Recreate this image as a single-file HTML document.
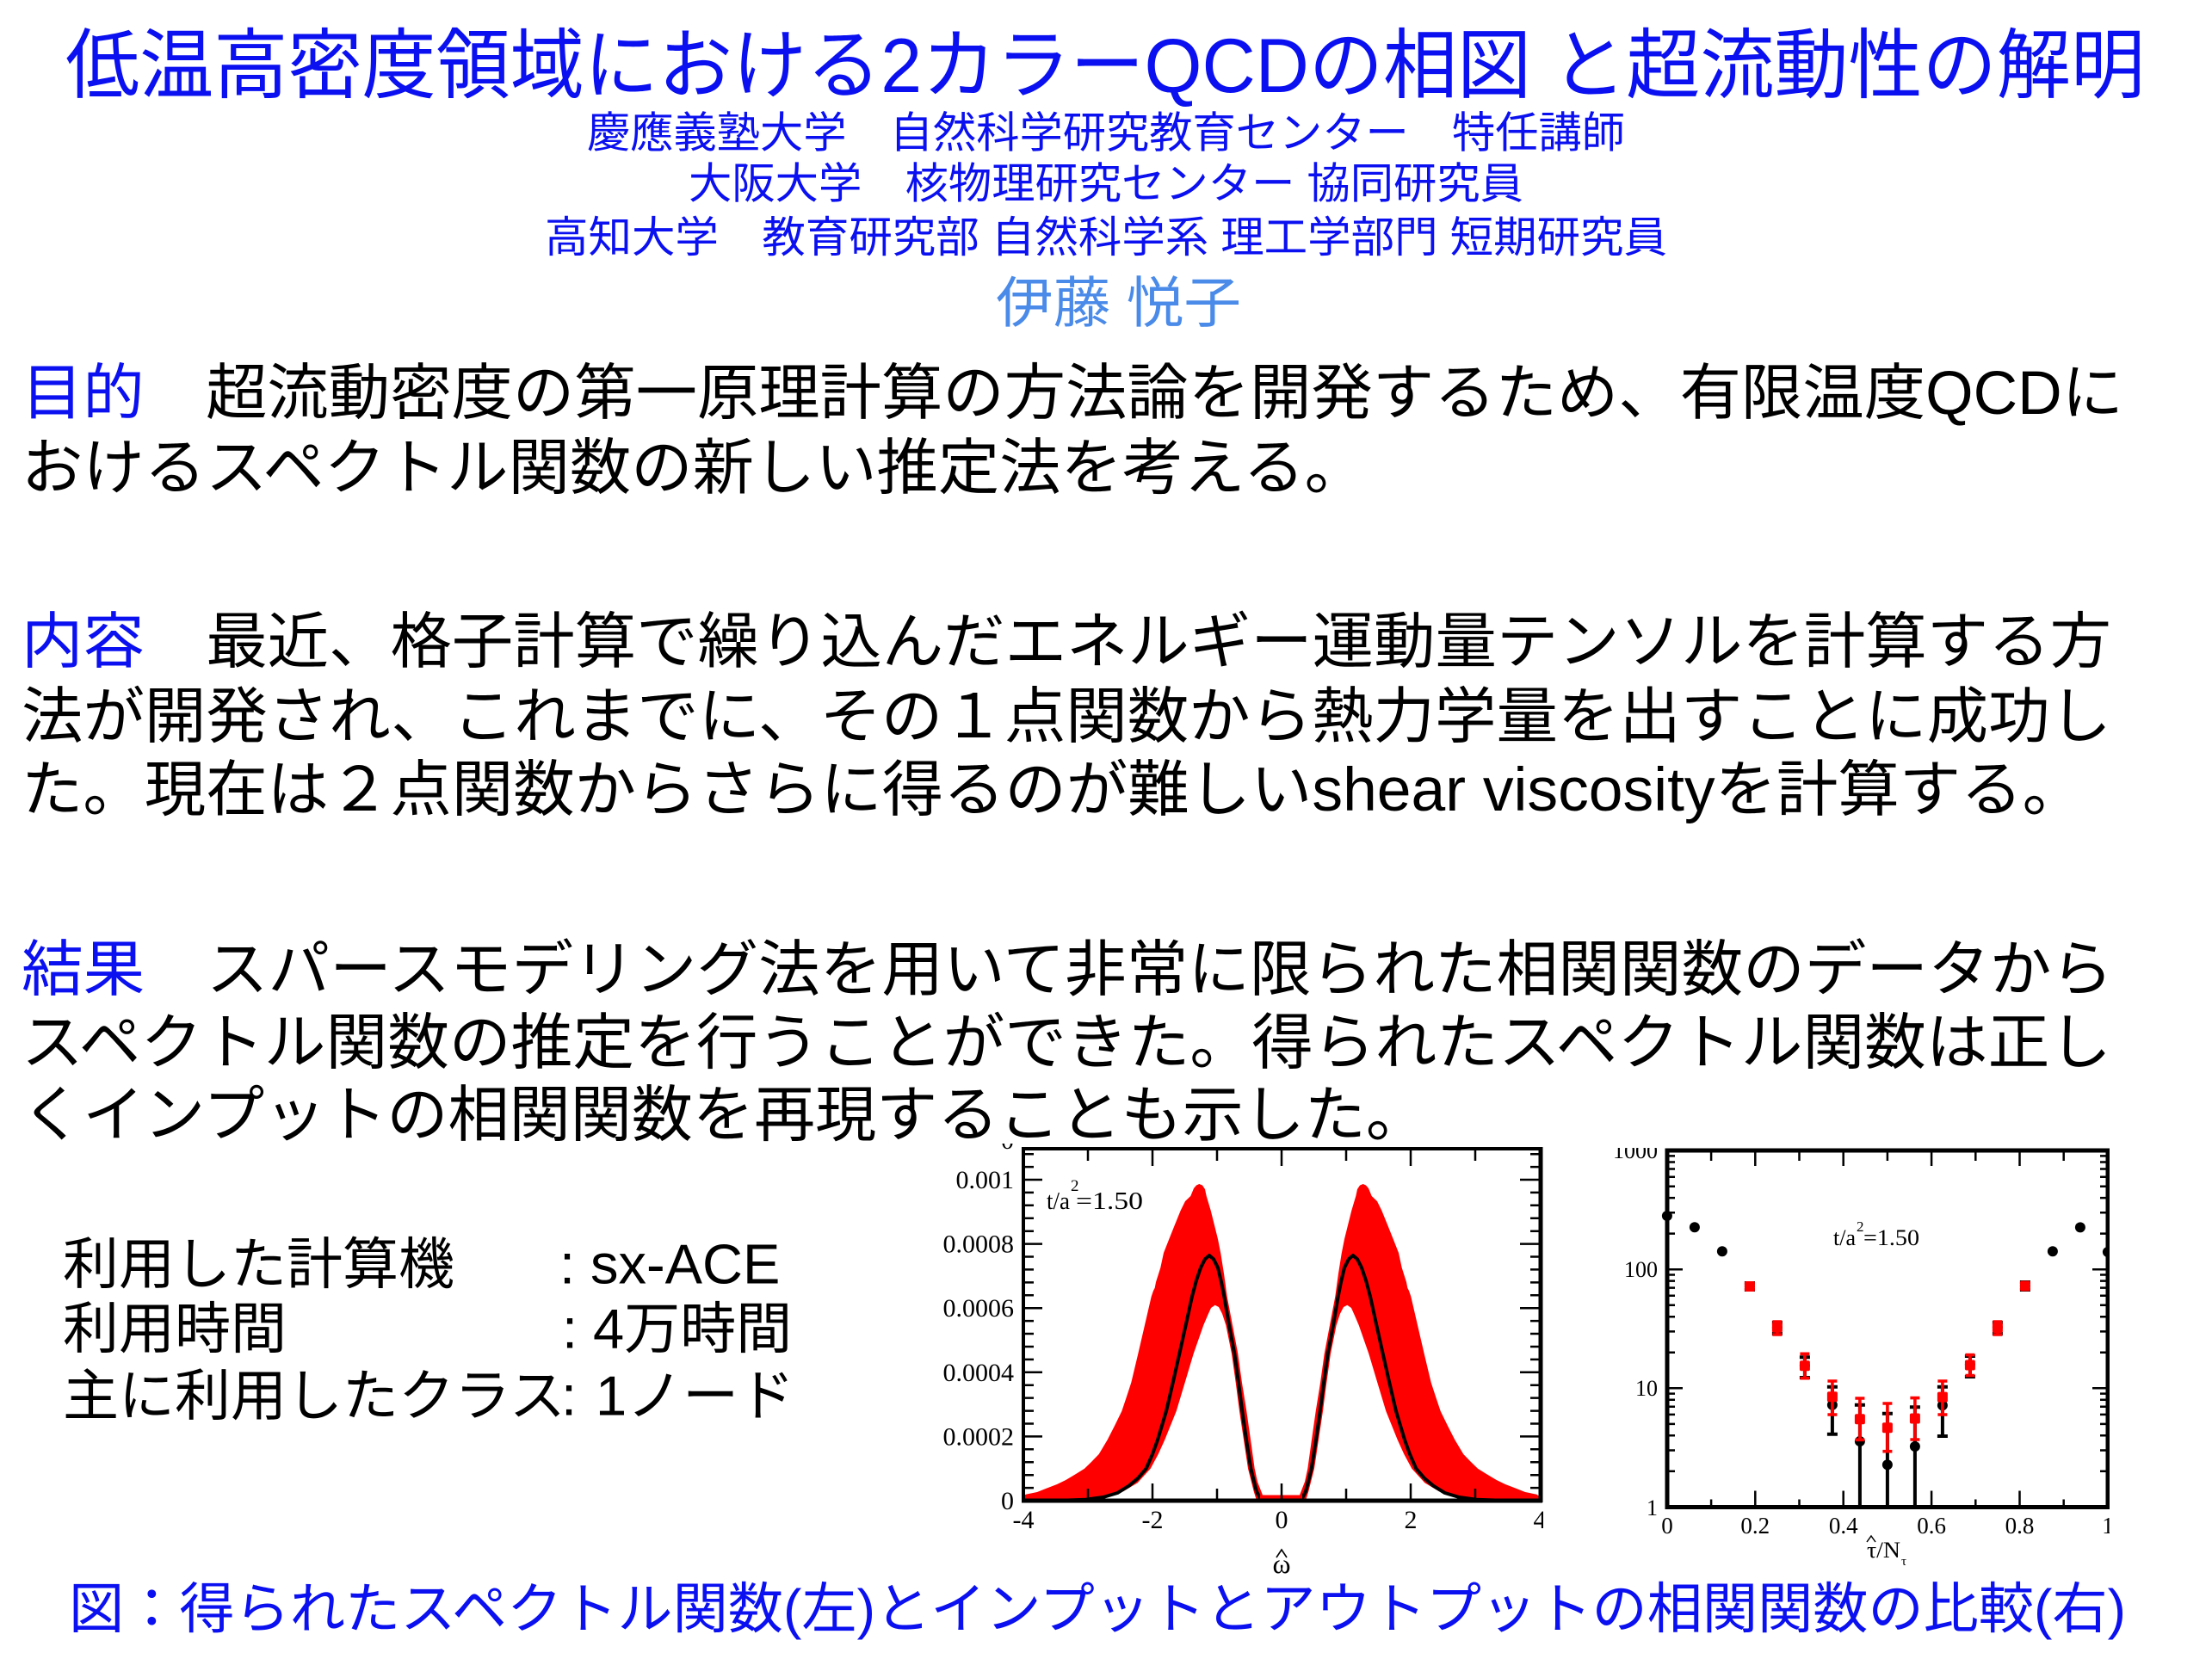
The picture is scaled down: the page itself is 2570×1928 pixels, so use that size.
<!DOCTYPE html>
<html>
<head>
<meta charset="utf-8">
<style>
html,body{margin:0;padding:0;background:#fff;}
svg{display:block;}
.j{font-family:"Liberation Sans","Noto Sans CJK JP",sans-serif;}
.s{font-family:"Liberation Serif","DejaVu Serif",serif;}
</style>
</head>
<body>
<svg width="2570" height="1928" viewBox="0 0 2570 1928" xmlns="http://www.w3.org/2000/svg">
<rect x="0" y="0" width="2570" height="1928" fill="#ffffff"/>
<defs>
  <clipPath id="clipL"><rect x="1090" y="1329" width="703" height="520"/></clipPath>
  <clipPath id="clipR"><rect x="1860" y="1334" width="591" height="500"/></clipPath>
  <g id="half">
    <polygon fill="#ff0000" points="1189,1744 1189,1738.5 1191.7,1736.7 1205,1734 1215,1730 1228,1725 1238.3,1720 1250,1713 1260,1706.7 1268,1699 1276.7,1690 1286.7,1673.3 1295,1657 1303.3,1640 1309,1623 1314.3,1606.7 1322.3,1573.3 1330,1540 1337.7,1506.7 1340,1500 1341.7,1496.7 1343,1490 1348.3,1473.3 1352,1456 1358.3,1440 1365,1423.3 1371.7,1406.7 1377,1396 1383.3,1390 1387,1381 1390,1377.5 1393.3,1376 1397,1377.5 1400,1382 1401.7,1390 1406.7,1406.7 1415,1440 1418.3,1456.7 1422,1480 1425.7,1506.7 1432,1540 1438.3,1573.3 1443,1607 1448.3,1640 1453,1673 1457.7,1706.7 1461,1722 1466.7,1736.7 1468.3,1744"/>
    <polygon fill="#ffffff" points="1260,1744 1281.7,1740 1305,1733.3 1321.7,1723.3 1336.7,1706.7 1345.7,1690 1353.3,1673.3 1366.7,1640 1376.7,1606.7 1386.7,1573.3 1398.3,1540 1403,1529 1407,1520 1411.7,1516.7 1416,1519 1420,1526.7 1424.3,1540 1431,1573.3 1435.7,1606.7 1440,1640 1445,1673.3 1450,1706.7 1456.7,1733.3 1460,1744"/>
    <polyline fill="none" stroke="#000" stroke-width="4" stroke-linejoin="round" stroke-linecap="round" points="1189,1744 1240,1743.5 1261.7,1742.7 1281.7,1740 1298.3,1735 1311.7,1726.7 1322,1718 1331.7,1706.7 1339,1690 1345,1673.3 1355,1640 1362.7,1607 1370.3,1573.3 1377.7,1540 1385,1506.7 1390,1488 1395,1473.3 1400,1463.3 1405,1459 1410,1463.3 1415,1473.3 1419,1490 1422.3,1506.7 1428,1540 1434.3,1573.3 1439,1607 1443.3,1640 1448,1673 1453.3,1706.7 1457,1722 1460,1733.3 1464.3,1741.7 1468,1744 1489,1744"/>
  </g>
</defs>

<!-- Title -->
<text class="j" x="76" y="107" font-size="89" fill="#0a10f0" textLength="2416" lengthAdjust="spacingAndGlyphs">低温高密度領域における2カラーQCDの相図 と超流動性の解明</text>
<text class="j" x="682" y="171.5" font-size="50" fill="#0a10f0" textLength="1206" lengthAdjust="spacingAndGlyphs">慶應義塾大学　自然科学研究教育センター　特任講師</text>
<text class="j" x="800" y="230.5" font-size="50" fill="#0a10f0" textLength="970" lengthAdjust="spacingAndGlyphs">大阪大学　核物理研究センター 協同研究員</text>
<text class="j" x="633" y="293" font-size="50" fill="#0a10f0" textLength="1304" lengthAdjust="spacingAndGlyphs">高知大学　教育研究部 自然科学系 理工学部門 短期研究員</text>
<text class="j" x="1157" y="374.5" font-size="64" fill="#4a8ae8" textLength="285" lengthAdjust="spacingAndGlyphs">伊藤 悦子</text>

<!-- Body -->
<text class="j" x="25" y="481" font-size="71" fill="#000" textLength="2442" lengthAdjust="spacingAndGlyphs"><tspan fill="#0a10f0">目的</tspan>　超流動密度の第一原理計算の方法論を開発するため、有限温度QCDに</text>
<text class="j" x="25" y="568" font-size="71" fill="#000" textLength="1562" lengthAdjust="spacingAndGlyphs">おけるスペクトル関数の新しい推定法を考える。</text>

<text class="j" x="25" y="770" font-size="71" fill="#000" textLength="2428" lengthAdjust="spacingAndGlyphs"><tspan fill="#0a10f0">内容</tspan>　最近、格子計算で繰り込んだエネルギー運動量テンソルを計算する方</text>
<text class="j" x="25" y="857" font-size="71" fill="#000" textLength="2428" lengthAdjust="spacingAndGlyphs">法が開発され、これまでに、その１点関数から熱力学量を出すことに成功し</text>
<text class="j" x="25" y="942" font-size="71" fill="#000" textLength="2396" lengthAdjust="spacingAndGlyphs">た。現在は２点関数からさらに得るのが難しいshear viscosityを計算する。</text>

<text class="j" x="25" y="1151" font-size="71" fill="#000" textLength="2430" lengthAdjust="spacingAndGlyphs"><tspan fill="#0a10f0">結果</tspan>　スパースモデリング法を用いて非常に限られた相関関数のデータから</text>
<text class="j" x="25" y="1236" font-size="71" fill="#000" textLength="2428" lengthAdjust="spacingAndGlyphs">スペクトル関数の推定を行うことができた。得られたスペクトル関数は正し</text>
<text class="j" x="25" y="1320" font-size="71" fill="#000" textLength="1633" lengthAdjust="spacingAndGlyphs">くインプットの相関関数を再現することも示した。</text>

<!-- Computer info list -->
<text class="j" x="73" y="1491.5" font-size="65" fill="#000">利用した計算機</text>
<text class="j" x="650" y="1491.5" font-size="65" fill="#000">:</text>
<text class="j" x="686" y="1491.5" font-size="65" fill="#000">sx-ACE</text>
<text class="j" x="73" y="1566.5" font-size="65" fill="#000">利用時間</text>
<text class="j" x="653" y="1566.5" font-size="65" fill="#000">:</text>
<text class="j" x="689" y="1566.5" font-size="65" fill="#000">4万時間</text>
<text class="j" x="73" y="1644.5" font-size="65" fill="#000">主に利用したクラス</text>
<text class="j" x="652" y="1644.5" font-size="65" fill="#000">:</text>
<text class="j" x="692" y="1644.5" font-size="65" fill="#000">1ノード</text>

<!-- Caption -->
<text class="j" x="80" y="1892" font-size="64" fill="#0a10f0" textLength="2390" lengthAdjust="spacingAndGlyphs">図：得られたスペクトル関数(左)とインプットとアウトプットの相関関数の比較(右)</text>

<!-- LEFT CHART -->
<g clip-path="url(#clipL)">
  <use href="#half"/>
  <use href="#half" transform="matrix(-1 0 0 1 2977 0)"/>
  <rect x="1464" y="1737.5" width="49" height="6.5" fill="#ff0000"/>
  <!-- ticks -->
  <path fill="none" stroke="#000" stroke-width="2.5" d="
    M1189 1669.4h22M1189 1594.8h22M1189 1520.2h22M1189 1445.6h22M1189 1371h22
    M1790 1669.4h-24M1790 1594.8h-24M1790 1520.2h-24M1790 1445.6h-24M1790 1371h-24
    M1189 1729.1h12M1189 1714.2h12M1189 1699.2h12M1189 1684.3h12M1189 1654.5h12M1189 1639.6h12M1189 1624.6h12M1189 1609.7h12M1189 1579.9h12M1189 1565h12M1189 1550h12M1189 1535.1h12M1189 1505.3h12M1189 1490.4h12M1189 1475.4h12M1189 1460.5h12M1189 1430.7h12M1189 1415.8h12M1189 1400.8h12M1189 1385.9h12M1189 1356.1h12M1189 1341.2h12
    M1790 1729.1h-12M1790 1714.2h-12M1790 1699.2h-12M1790 1684.3h-12M1790 1654.5h-12M1790 1639.6h-12M1790 1624.6h-12M1790 1609.7h-12M1790 1579.9h-12M1790 1565h-12M1790 1550h-12M1790 1535.1h-12M1790 1505.3h-12M1790 1490.4h-12M1790 1475.4h-12M1790 1460.5h-12M1790 1430.7h-12M1790 1415.8h-12M1790 1400.8h-12M1790 1385.9h-12M1790 1356.1h-12M1790 1341.2h-12
    M1339 1744v-20M1489 1744v-20M1639 1744v-20
    M1264 1744v-14M1414 1744v-14M1564 1744v-14M1714 1744v-14
    M1339 1335v20M1489 1335v20M1639 1335v20
    M1264 1335v14M1414 1335v14M1564 1335v14M1714 1335v14"/>
  <!-- frame -->
  <line x1="1187" y1="1335" x2="1792" y2="1335" stroke="#000" stroke-width="4"/>
  <line x1="1187" y1="1744" x2="1792" y2="1744" stroke="#000" stroke-width="5"/>
  <line x1="1189" y1="1333" x2="1189" y2="1746" stroke="#000" stroke-width="4"/>
  <line x1="1790" y1="1333" x2="1790" y2="1746" stroke="#000" stroke-width="5"/>
  <!-- y labels -->
  <g class="s" font-size="30" fill="#000" text-anchor="end">
    <text x="1178" y="1335">0</text>
    <text x="1178" y="1381">0.001</text>
    <text x="1178" y="1455.6">0.0008</text>
    <text x="1178" y="1530.2">0.0006</text>
    <text x="1178" y="1604.8">0.0004</text>
    <text x="1178" y="1679.4">0.0002</text>
    <text x="1178" y="1754">0</text>
  </g>
  <!-- x labels -->
  <g class="s" font-size="30" fill="#000" text-anchor="middle">
    <text x="1189" y="1776">-4</text>
    <text x="1339" y="1776">-2</text>
    <text x="1489" y="1776">0</text>
    <text x="1639" y="1776">2</text>
    <text x="1789" y="1776">4</text>
  </g>
  <polyline points="1483,1810 1489,1801 1495,1810" fill="none" stroke="#000" stroke-width="1.6"/>
  <text class="s" x="1489" y="1828" font-size="32" text-anchor="middle" fill="#000">ω</text>
  <!-- annotation -->
  <text class="s" x="1216" y="1405" font-size="28" fill="#000" textLength="27" lengthAdjust="spacingAndGlyphs">t/a</text>
  <text class="s" x="1244" y="1384" font-size="19" fill="#000">2</text>
  <text class="s" x="1250" y="1405" font-size="28" fill="#000" textLength="78" lengthAdjust="spacingAndGlyphs">=1.50</text>
</g>

<!-- RIGHT CHART -->
<g clip-path="url(#clipR)">
  <!-- black error bars -->
  <path fill="none" stroke="#000" stroke-width="4" d="
    M2032.9 1491V1499M2026.9 1491h12M2026.9 1499h12
    M2064.9 1537V1550M2058.9 1537h12M2058.9 1550h12
    M2096.9 1577.3V1601M2090.9 1577.3h12M2090.9 1601h12
    M2128.9 1611.7V1666.7M2122.9 1611.7h12M2122.9 1666.7h12
    M2160.9 1632.7V1752M2154.9 1632.7h12
    M2192.9 1642.7V1752M2186.9 1642.7h12
    M2224.9 1635.3V1752M2218.9 1635.3h12
    M2256.9 1611.7V1669M2250.9 1611.7h12M2250.9 1669h12
    M2288.9 1576V1600M2282.9 1576h12M2282.9 1600h12
    M2320.9 1537V1550M2314.9 1537h12M2314.9 1550h12
    M2352.9 1490V1499M2346.9 1490h12M2346.9 1499h12"/>
  <!-- black circles -->
  <g fill="#000">
    <circle cx="1936.9" cy="1413" r="6"/>
    <circle cx="1968.9" cy="1426.3" r="6"/>
    <circle cx="2000.9" cy="1454.3" r="6"/>
    <circle cx="2032.9" cy="1495" r="6"/>
    <circle cx="2064.9" cy="1542.7" r="6"/>
    <circle cx="2096.9" cy="1587" r="6"/>
    <circle cx="2128.9" cy="1632.7" r="6"/>
    <circle cx="2160.9" cy="1675" r="6"/>
    <circle cx="2192.9" cy="1702.3" r="6"/>
    <circle cx="2224.9" cy="1681" r="6"/>
    <circle cx="2256.9" cy="1633.3" r="6"/>
    <circle cx="2288.9" cy="1586" r="6"/>
    <circle cx="2320.9" cy="1542.5" r="6"/>
    <circle cx="2352.9" cy="1494.5" r="6"/>
    <circle cx="2384.9" cy="1454.3" r="6"/>
    <circle cx="2416.9" cy="1426.4" r="6"/>
    <circle cx="2448.9" cy="1455" r="6"/>
  </g>
  <!-- red error bars -->
  <path fill="none" stroke="#ff0000" stroke-width="3.6" d="
    M2064.9 1536V1551M2059.4 1536h11M2059.4 1551h11
    M2096.9 1573.3V1601.7M2091.4 1573.3h11M2091.4 1601.7h11
    M2128.9 1605V1644M2123.4 1605h11M2123.4 1644h11
    M2160.9 1625V1673.3M2155.4 1625h11M2155.4 1673.3h11
    M2192.9 1631V1686.7M2187.4 1631h11M2187.4 1686.7h11
    M2224.9 1624.6V1673M2219.4 1624.6h11M2219.4 1673h11
    M2256.9 1605V1644M2251.4 1605h11M2251.4 1644h11
    M2288.9 1574.6V1598.6M2283.4 1574.6h11M2283.4 1598.6h11
    M2320.9 1536V1551M2315.4 1536h11M2315.4 1551h11"/>
  <!-- red markers -->
  <g fill="#ff0000">
    <rect x="2026.9" y="1489" width="12" height="12" rx="2"/>
    <rect x="2058.9" y="1536.7" width="12" height="12" rx="2"/>
    <rect x="2090.9" y="1581.3" width="12" height="12" rx="2"/>
    <rect x="2122.9" y="1617.3" width="12" height="12" rx="2"/>
    <rect x="2154.9" y="1643.3" width="12" height="12" rx="2"/>
    <rect x="2186.9" y="1653.3" width="12" height="12" rx="2"/>
    <rect x="2218.9" y="1642.5" width="12" height="12" rx="2"/>
    <rect x="2250.9" y="1617.6" width="12" height="12" rx="2"/>
    <rect x="2282.9" y="1580.5" width="12" height="12" rx="2"/>
    <rect x="2314.9" y="1537" width="12" height="12" rx="2"/>
    <rect x="2346.9" y="1488.5" width="12" height="12" rx="2"/>
  </g>
  <!-- ticks -->
  <path fill="none" stroke="#000" stroke-width="2.5" d="
    M1937 1613.3h18M1937 1475.2h18
    M2449 1613.3h-18M2449 1475.2h-18
    M1937 1709.8h9M1937 1685.5h9M1937 1668.3h9M1937 1654.9h9M1937 1643.9h9M1937 1634.7h9M1937 1626.7h9M1937 1619.6h9
    M1937 1571.7h9M1937 1547.4h9M1937 1530.2h9M1937 1516.8h9M1937 1505.8h9M1937 1496.6h9M1937 1488.6h9M1937 1481.5h9
    M1937 1433.6h9M1937 1409.3h9M1937 1392.1h9M1937 1378.7h9M1937 1367.7h9M1937 1358.5h9M1937 1350.5h9M1937 1343.4h9
    M2449 1709.8h-9M2449 1685.5h-9M2449 1668.3h-9M2449 1654.9h-9M2449 1643.9h-9M2449 1634.7h-9M2449 1626.7h-9M2449 1619.6h-9
    M2449 1571.7h-9M2449 1547.4h-9M2449 1530.2h-9M2449 1516.8h-9M2449 1505.8h-9M2449 1496.6h-9M2449 1488.6h-9M2449 1481.5h-9
    M2449 1433.6h-9M2449 1409.3h-9M2449 1392.1h-9M2449 1378.7h-9M2449 1367.7h-9M2449 1358.5h-9M2449 1350.5h-9M2449 1343.4h-9
    M2039.3 1751.5v-19M2141.7 1751.5v-19M2244.1 1751.5v-19M2346.5 1751.5v-19
    M1988.1 1751.5v-9M2090.5 1751.5v-9M2192.9 1751.5v-9M2295.3 1751.5v-9M2397.7 1751.5v-9
    M2039.3 1337v18M2141.7 1337v18M2244.1 1337v18M2346.5 1337v18
    M1988.1 1337v12M2090.5 1337v12M2192.9 1337v12M2295.3 1337v12M2397.7 1337v12"/>
  <!-- frame -->
  <line x1="1934.5" y1="1337" x2="2451.5" y2="1337" stroke="#000" stroke-width="5"/>
  <line x1="1934.5" y1="1751.5" x2="2451.5" y2="1751.5" stroke="#000" stroke-width="5"/>
  <line x1="1937" y1="1334.5" x2="1937" y2="1754" stroke="#000" stroke-width="5"/>
  <line x1="2449" y1="1334.5" x2="2449" y2="1754" stroke="#000" stroke-width="5"/>
  <!-- y labels -->
  <g class="s" font-size="26" fill="#000" text-anchor="end">
    <text x="1926" y="1346">1000</text>
    <text x="1926" y="1484">100</text>
    <text x="1926" y="1622">10</text>
    <text x="1926" y="1761">1</text>
  </g>
  <!-- x labels -->
  <g class="s" font-size="27" fill="#000" text-anchor="middle">
    <text x="1937" y="1782">0</text>
    <text x="2039.3" y="1782">0.2</text>
    <text x="2141.7" y="1782">0.4</text>
    <text x="2244.1" y="1782">0.6</text>
    <text x="2346.5" y="1782">0.8</text>
    <text x="2449" y="1782">1</text>
  </g>
  <polyline points="2169,1792 2174,1785 2179,1792" fill="none" stroke="#000" stroke-width="1.5"/>
  <text class="s" x="2169" y="1810" font-size="26" fill="#000" textLength="39" lengthAdjust="spacingAndGlyphs">τ/N</text>
  <text class="s" x="2209" y="1819" font-size="15" fill="#000">τ</text>
  <!-- annotation -->
  <text class="s" x="2130" y="1447" font-size="26" fill="#000" textLength="26" lengthAdjust="spacingAndGlyphs">t/a</text>
  <text class="s" x="2157" y="1431" font-size="17" fill="#000">2</text>
  <text class="s" x="2165" y="1447" font-size="26" fill="#000" textLength="65" lengthAdjust="spacingAndGlyphs">=1.50</text>
</g>
</svg>
</body>
</html>
